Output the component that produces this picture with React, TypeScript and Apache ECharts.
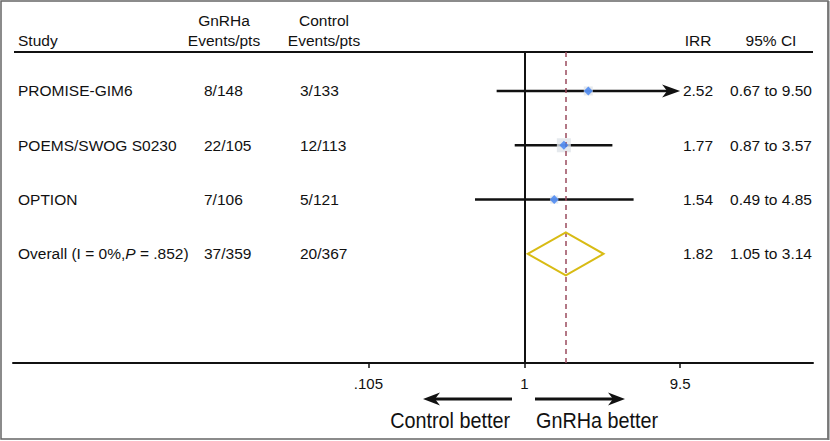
import React, { useEffect, useRef } from "react";
import * as echarts from "echarts";

// ---- Data ----
const studies = ["PROMISE-GIM6", "POEMS/SWOG S0230", "OPTION"];
const gnrhaEvents = ["8/148", "22/105", "7/106"];
const controlEvents = ["3/133", "12/113", "5/121"];
const irr = [2.52, 1.77, 1.54];
const ciLow = [0.67, 0.87, 0.49];
const ciHigh = [9.5, 3.57, 4.85];

const overallLabel = "Overall (I = 0%,{i|P} = .852)";
const overallGnrha = "37/359";
const overallControl = "20/367";
const overallIrr = 1.82;
const overallLow = 1.05;
const overallHigh = 3.14;

const tickValues = [0.105, 1, 9.5];
const tickLabels = [".105", "1", "9.5"];

// ---- Styles ----
const boxSizes = [9, 14, 8];
const FONT = "'Liberation Sans', Arial, Helvetica, sans-serif";
const FS = 15.5;
const BLUE = "#3d80f3";
const BOX = "#dfe3e8";
const GOLD = "#d8bb14";
const DASH = "#9a4b5d";
const INK = "#111111";

const L = (v: number) => Math.log10(v);
const X_MIN = -3.21;
const X_MAX = 1.812;

export default function App() {
  const ref = useRef<HTMLDivElement>(null);

  useEffect(() => {
    if (!ref.current) return;
    const chart = echarts.init(ref.current, undefined, { renderer: "svg" });

    const tickLog = tickValues.map(L);
    const axisMaxLog = L(tickValues[tickValues.length - 1]);

    const ciData = studies.map((_, i) => [L(ciLow[i]), i, L(ciHigh[i]), L(irr[i])]);
    const boxData = studies.map((_, i) => ({ value: [L(irr[i]), i], symbolSize: boxSizes[i] }));
    const pointData = studies.map((_, i) => [L(irr[i]), i]);

    const tableRows = [
      ...studies.map((s, i) => ({
        label: s,
        g: gnrhaEvents[i],
        c: controlEvents[i],
        irr: irr[i].toFixed(2),
        ci: `${ciLow[i].toFixed(2)} to ${ciHigh[i].toFixed(2)}`,
      })),
      {
        label: overallLabel,
        g: overallGnrha,
        c: overallControl,
        irr: overallIrr.toFixed(2),
        ci: `${overallLow.toFixed(2)} to ${overallHigh.toFixed(2)}`,
      },
    ];
    const overallRow = studies.length;

    const txt = (x: number, y: number, text: string, align: string, extra: any = {}) => ({
      type: "text",
      x,
      y,
      style: {
        text,
        fill: INK,
        font: `${FS}px ${FONT}`,
        fontSize: FS,
        fontFamily: FONT,
        align,
        textAlign: align,
        verticalAlign: "middle",
        textVerticalAlign: "middle",
        ...extra,
      },
    });

    const option: any = {
      animation: false,
      backgroundColor: "#ffffff",
      grid: { left: 13, width: 800, top: 52, height: 311 },
      xAxis: {
        type: "value",
        min: X_MIN,
        max: X_MAX,
        position: "bottom",
        splitLine: { show: false },
        axisLine: { show: true, onZero: false, lineStyle: { color: INK, width: 2 } },
        axisTick: { show: true, customValues: tickLog, length: 5, lineStyle: { color: INK, width: 1.5 } },
        axisLabel: {
          show: true,
          customValues: tickLog,
          margin: 13,
          color: INK,
          fontSize: 15,
          fontFamily: FONT,
          formatter: (v: number) => {
            let best = 0;
            tickLog.forEach((t, k) => {
              if (Math.abs(t - v) < Math.abs(tickLog[best] - v)) best = k;
            });
            return tickLabels[best];
          },
        },
      },
      yAxis: {
        type: "value",
        inverse: true,
        min: -0.718,
        max: 5.01,
        show: false,
      },
      series: [
        {
          type: "custom",
          name: "table",
          clip: false,
          silent: true,
          data: tableRows.map((_, i) => [X_MIN, i]),
          renderItem: (params: any, api: any) => {
            const r = tableRows[params.dataIndex];
            const y = api.coord([X_MIN, api.value(1)])[1];
            return {
              type: "group",
              children: [
                txt(18, y, r.label, "left", { rich: { i: { fontStyle: "italic", fontSize: FS, fontFamily: FONT, fill: INK } } }),
                txt(204, y, r.g, "left"),
                txt(300, y, r.c, "left"),
                txt(698, y, r.irr, "center"),
                txt(771, y, r.ci, "center"),
              ],
            };
          },
          z: 5,
        },
        {
          type: "custom",
          name: "ci",
          clip: false,
          silent: true,
          data: ciData,
          renderItem: (params: any, api: any) => {
            const lo = api.coord([api.value(0), api.value(1)]);
            const hi = api.coord([api.value(2), api.value(1)]);
            const arrow = api.value(2) >= axisMaxLog - 1e-9;
            const children: any[] = [
              {
                type: "line",
                shape: { x1: lo[0], y1: lo[1], x2: arrow ? hi[0] - 12 : hi[0], y2: hi[1] },
                style: { stroke: INK, lineWidth: 2.5 },
              },
            ];
            if (arrow) {
              const t = hi[0];
              const y = hi[1];
              children.push({
                type: "polygon",
                shape: { points: [[t, y], [t - 18, y - 6.5], [t - 13, y], [t - 18, y + 6.5]] },
                style: { fill: INK },
              });
            }
            return { type: "group", children };
          },
          markLine: {
            silent: true,
            symbol: "none",
            label: { show: false },
            data: [
              { xAxis: 0, lineStyle: { color: INK, width: 2, type: "solid" } },
              { xAxis: L(overallIrr), lineStyle: { color: DASH, width: 1.5, type: [5, 4] } },
            ],
          },
          z: 3,
        },
        {
          type: "scatter",
          name: "weight",
          symbol: "rect",
          silent: true,
          itemStyle: { color: BOX },
          data: boxData,
          z: 4,
        },
        {
          type: "scatter",
          name: "irr",
          symbol: "diamond",
          symbolSize: 9,
          silent: true,
          itemStyle: { color: BLUE },
          data: pointData,
          z: 5,
        },
        {
          type: "custom",
          name: "overall",
          clip: false,
          silent: true,
          data: [[L(overallLow), overallRow, L(overallHigh), L(overallIrr)]],
          renderItem: (params: any, api: any) => {
            const lo = api.coord([api.value(0), api.value(1)]);
            const hi = api.coord([api.value(2), api.value(1)]);
            const c = api.coord([api.value(3), api.value(1)]);
            const h = 21.5;
            return {
              type: "polygon",
              shape: { points: [lo, [c[0], c[1] - h], hi, [c[0], c[1] + h]] },
              style: { fill: "none", stroke: GOLD, lineWidth: 2 },
            };
          },
          z: 5,
        },
      ],
      graphic: [
        {
          type: "rect",
          shape: { x: 1, y: 1, width: 827, height: 438 },
          style: { fill: "none", stroke: "#666", lineWidth: 1.5 },
          silent: true,
        },
        {
          type: "line",
          shape: { x1: 828.5, y1: 1, x2: 828.5, y2: 440 },
          style: { stroke: "#777", lineWidth: 2 },
          silent: true,
        },
        {
          type: "line",
          shape: { x1: 14, y1: 52, x2: 813, y2: 52 },
          style: { stroke: INK, lineWidth: 2 },
          silent: true,
        },
        txt(18, 40, "Study", "left"),
        txt(224, 20, "GnRHa", "center"),
        txt(224, 40, "Events/pts", "center"),
        txt(324, 20, "Control", "center"),
        txt(324, 40, "Events/pts", "center"),
        txt(698, 40, "IRR", "center"),
        txt(771, 40, "95% CI", "center"),
        // direction arrows
        {
          type: "line",
          shape: { x1: 512, y1: 399, x2: 434, y2: 399 },
          style: { stroke: INK, lineWidth: 3 },
          silent: true,
        },
        {
          type: "polygon",
          shape: { points: [[423, 399], [440, 392.5], [435, 399], [440, 405.5]] },
          style: { fill: INK },
          silent: true,
        },
        {
          type: "line",
          shape: { x1: 535, y1: 399, x2: 614, y2: 399 },
          style: { stroke: INK, lineWidth: 3 },
          silent: true,
        },
        {
          type: "polygon",
          shape: { points: [[625, 399], [608, 392.5], [613, 399], [608, 405.5]] },
          style: { fill: INK },
          silent: true,
        },
        {
          type: "text",
          x: 510,
          y: 420,
          scaleX: 0.9,
          style: {
            text: "Control better",
            fill: INK,
            font: `22px ${FONT}`,
            align: "right",
            textAlign: "right",
            verticalAlign: "middle",
            textVerticalAlign: "middle",
          },
          silent: true,
        },
        {
          type: "text",
          x: 536,
          y: 420,
          scaleX: 0.9,
          style: {
            text: "GnRHa better",
            fill: INK,
            font: `22px ${FONT}`,
            align: "left",
            textAlign: "left",
            verticalAlign: "middle",
            textVerticalAlign: "middle",
          },
          silent: true,
        },
      ],
    };

    chart.setOption(option);
    return () => chart.dispose();
  }, []);

  return (
    <div
      ref={ref}
      style={{ position: "fixed", left: 0, top: 0, width: 830, height: 441, background: "#fff" }}
    />
  );
}
